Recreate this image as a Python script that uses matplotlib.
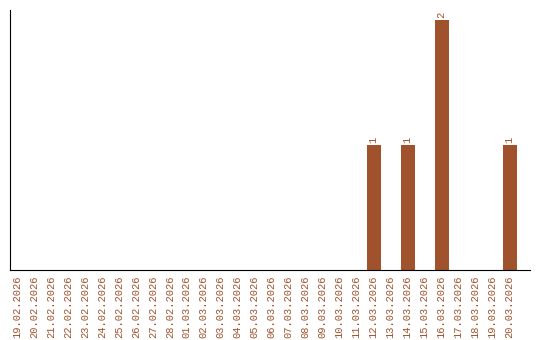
import matplotlib
matplotlib.use("Agg")
import matplotlib.pyplot as plt
import numpy as np

dates = [
    "19.02.2026", "20.02.2026", "21.02.2026", "22.02.2026", "23.02.2026",
    "24.02.2026", "25.02.2026", "26.02.2026", "27.02.2026", "28.02.2026",
    "01.03.2026", "02.03.2026", "03.03.2026", "04.03.2026", "05.03.2026",
    "06.03.2026", "07.03.2026", "08.03.2026", "09.03.2026", "10.03.2026",
    "11.03.2026", "12.03.2026", "13.03.2026", "14.03.2026", "15.03.2026",
    "16.03.2026", "17.03.2026", "18.03.2026", "19.03.2026", "20.03.2026",
]
counts = [0] * 21 + [1, 0, 1, 0, 2, 0, 0, 0, 1]

color = "#A0522D"
plt.rcParams["font.family"] = ["Liberation Mono", "DejaVu Sans Mono"]

fig = plt.figure(figsize=(5.4, 3.4), dpi=100)
ax = fig.add_axes([10 / 540, 70 / 340, 520 / 540, 260 / 340])

x = np.arange(len(dates))
ax.bar(x, counts, width=0.82, color=color)
for xi, c in zip(x, counts):
    if c > 0:
        ax.text(xi, c + 0.02, str(c), rotation=90, ha="center", va="bottom",
                color=color, fontsize=7.5)

ax.set_xlim(-0.4, 30.2)
ax.set_ylim(0, 2.08)
ax.set_xticks(x)
ax.set_xticklabels(dates, rotation=90, color=color, fontsize=7.5)
ax.tick_params(axis="x", length=0, pad=4)
ax.set_yticks([])
ax.spines["top"].set_visible(False)
ax.spines["right"].set_visible(False)

fig.savefig("out.png", dpi=100)
